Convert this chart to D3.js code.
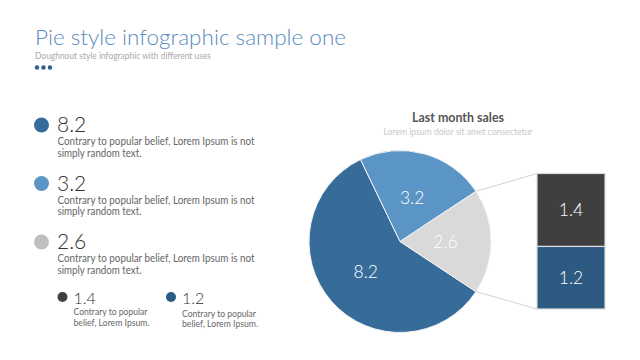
<!DOCTYPE html>
<html><head><meta charset="utf-8">
<script src="https://cdn.jsdelivr.net/npm/d3@7"></script>
<style>body{margin:0;background:#fff}svg{display:block}text{font-family:Lato,"Open Sans",sans-serif}</style>
</head><body>
<svg id="c" width="640" height="360"></svg>
<script>
const pieLabels = ["8.2", "3.2", "2.6"];
const pieValues = [8.2, 3.2, 2.6];
const pieColors = ["#376b99", "#5b95c5", "#d9d9d9"];
const subLabels = ["1.4", "1.2"];
const subValues = [1.4, 1.2];
const subColors = ["#3f3f3f", "#2d5a81"];
const legendDesc = ["Contrary to popular belief, Lorem Ipsum is not", "simply random text."];
const smallDesc = ["Contrary to popular", "belief, Lorem Ipsum."];

const svg = d3.select("#c");

function fitW(sel, w) {
  return sel.attr("textLength", w).attr("lengthAdjust", "spacingAndGlyphs");
}

// Header
fitW(svg.append("text").attr("x", 35).attr("y", 45).attr("font-size", 21).attr("font-weight", 300)
  .attr("fill", "#5a8bbd").text("Pie style infographic sample one"), 311);
fitW(svg.append("text").attr("x", 35).attr("y", 58.5).attr("font-size", 10)
  .attr("fill", "#a9a9a9").text("Doughnout style infographic with different uses"), 176);
svg.selectAll("circle.hd").data([0, 1, 2]).join("circle").attr("class", "hd")
  .attr("cx", d => 37 + d * 6.5).attr("cy", 67.5).attr("r", 2.2).attr("fill", "#2e5f8e");

// Left legend (big)
const legendY = d3.scalePoint().domain(pieLabels).range([125, 242]);
const descW = [197, 84];
pieLabels.forEach((lab, i) => {
  const y = legendY(lab);
  svg.append("circle").attr("cx", 41.5).attr("cy", y).attr("r", 7.5).attr("fill", i === 2 ? "#bfbfbf" : pieColors[i]);
  svg.append("text").attr("x", 57).attr("y", y + 7).attr("font-size", 21).attr("font-weight", 300)
    .attr("fill", "#333").text(lab);
  legendDesc.forEach((ln, k) => {
    fitW(svg.append("text").attr("x", 57.5).attr("y", y + 20 + k * 11.7).attr("font-size", 10.5)
      .attr("fill", "#666").text(ln), descW[k]);
  });
});

// Small legend
const smallX = d3.scalePoint().domain(subLabels).range([62.5, 171]);
const smallW = [74, 76];
subLabels.forEach((lab, i) => {
  const x = smallX(lab);
  svg.append("circle").attr("cx", x).attr("cy", 297).attr("r", 5).attr("fill", subColors[i]);
  svg.append("text").attr("x", x + 11).attr("y", 304).attr("font-size", 16).attr("font-weight", 300)
    .attr("fill", "#333").text(lab);
  smallDesc.forEach((ln, k) => {
    fitW(svg.append("text").attr("x", x + 11).attr("y", 315 + i * 1.5 + k * 10.8).attr("font-size", 9.5)
      .attr("fill", "#666").text(ln), smallW[k]);
  });
});

// Chart title
fitW(svg.append("text").attr("x", 458).attr("y", 122).attr("text-anchor", "middle").attr("font-size", 13.5)
  .attr("font-weight", 700).attr("fill", "#555").text("Last month sales"), 92);
fitW(svg.append("text").attr("x", 458).attr("y", 134.5).attr("text-anchor", "middle").attr("font-size", 9.5)
  .attr("fill", "#c8c8c8").text("Lorem ipsum dolor sit amet consectetur"), 149);

// Pie
const cx = 400, cy = 241.5, R = 91;
const total = d3.sum(pieValues);
const otherFrac = pieValues[2] / total;
const a0 = Math.PI / 2 + otherFrac * Math.PI;
const pie = d3.pie().sort(null).startAngle(a0).endAngle(a0 + 2 * Math.PI);
const arcs = pie(pieValues);
const arc = d3.arc().innerRadius(0).outerRadius(R);
const g = svg.append("g").attr("transform", `translate(${cx},${cy})`);
g.selectAll("path").data(arcs).join("path").attr("d", arc)
  .attr("fill", (d, i) => pieColors[i]).attr("stroke", "#f2f2f2").attr("stroke-width", 1);
g.selectAll("text").data(arcs).join("text")
  .attr("transform", d => `translate(${arc.centroid(d)})`)
  .attr("text-anchor", "middle").attr("dy", "0.36em").attr("font-size", 17.5).attr("font-weight", 300)
  .attr("fill", "#fff").text((d, i) => pieLabels[i]);

// Sub bar
const bx0 = 537, bw = 68;
const yScale = d3.scaleLinear().domain([0, d3.sum(subValues)]).range([173.5, 309]);
const stack = d3.cumsum([0, ...subValues]);
const bars = svg.append("g");
subValues.forEach((v, i) => {
  bars.append("rect").attr("x", bx0).attr("y", yScale(stack[i])).attr("width", bw)
    .attr("height", yScale(stack[i + 1]) - yScale(stack[i]))
    .attr("fill", subColors[i]).attr("stroke", "#dcdcdc").attr("stroke-width", 1.2);
  bars.append("text").attr("x", bx0 + bw / 2).attr("y", (yScale(stack[i]) + yScale(stack[i + 1])) / 2)
    .attr("text-anchor", "middle").attr("dy", "0.36em").attr("font-size", 17.5).attr("font-weight", 300)
    .attr("fill", "#fff").text(subLabels[i]);
});

// Connectors
const oth = arcs[2];
const p1 = [cx + R * Math.sin(oth.startAngle), cy - R * Math.cos(oth.startAngle)];
const p2 = [cx + R * Math.sin(oth.endAngle), cy - R * Math.cos(oth.endAngle)];
svg.append("line").attr("x1", p1[0]).attr("y1", p1[1]).attr("x2", bx0).attr("y2", yScale(0))
  .attr("stroke", "#d2d2d2").attr("stroke-width", 1);
svg.append("line").attr("x1", p2[0]).attr("y1", p2[1]).attr("x2", bx0).attr("y2", yScale(d3.sum(subValues)))
  .attr("stroke", "#d2d2d2").attr("stroke-width", 1);
</script>
</body></html>
